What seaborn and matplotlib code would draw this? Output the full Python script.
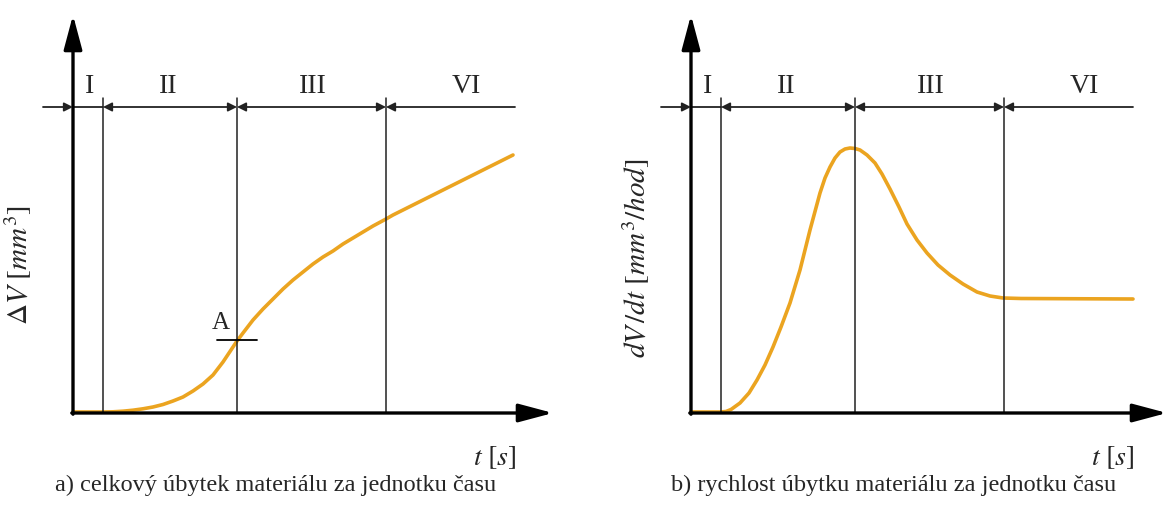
import numpy as np
import pandas as pd
import matplotlib
matplotlib.use("Agg")
import matplotlib.pyplot as plt
import seaborn as sns

# ---- data (schematic; units arbitrary) ----
phase_labels = ["I", "II", "III", "VI"]
boundaries = [0.0, 3.0, 16.4, 31.3]          # phase boundaries on t axis
phase_end = 44.2                              # end of dimension line
label_pos = [1.7, 9.5, 24.0, 39.3]            # label centres

# a) total material loss
t_a = [0.0, 3.0, 4.0, 5.0, 6.0, 7.0, 8.0, 9.0, 10.0, 11.0, 12.0, 13.0, 14.0,
       15.0, 16.0, 16.4, 17.0, 18.0, 19.0, 20.0, 21.0, 22.0, 23.0, 24.0,
       25.0, 26.0, 27.0, 28.0, 29.0, 30.0, 31.3, 32.0, 33.0, 34.0, 35.0,
       36.0, 37.4, 38.0, 39.0, 40.0, 41.0, 42.0, 43.0, 44.0]
v_a = [0.1, 0.1, 0.12, 0.18, 0.28, 0.42, 0.6, 0.85, 1.2, 1.6, 2.2, 2.9, 3.8,
       5.1, 6.6, 7.2, 8.0, 9.3, 10.4, 11.4, 12.4, 13.3, 14.1, 14.9,
       15.6, 16.2, 16.9, 17.5, 18.1, 18.7, 19.4, 19.8, 20.3, 20.8, 21.3,
       21.8, 22.5, 22.8, 23.3, 23.8, 24.3, 24.8, 25.3, 25.8]
point_A = (16.4, 7.3)

# b) rate of material loss
t_b = [0.0, 2.9, 3.5, 4.0, 4.9, 5.8, 6.6, 7.4, 8.2, 9.0, 9.9, 10.9, 11.9,
       12.9, 13.4, 13.9, 14.4, 14.9, 15.4, 15.9, 16.4, 16.9, 17.6, 18.4,
       19.1, 19.9, 20.8, 21.6, 22.6, 23.6, 24.7, 25.9, 27.2, 28.6, 29.9,
       31.2, 33.0, 44.2]
v_b = [0.1, 0.1, 0.15, 0.35, 1.0, 2.0, 3.3, 4.8, 6.6, 8.6, 11.0, 14.3, 18.3,
       22.0, 23.5, 24.6, 25.5, 26.1, 26.4, 26.5, 26.45, 26.3, 25.8, 25.0,
       23.9, 22.4, 20.6, 18.9, 17.3, 16.0, 14.8, 13.8, 12.9, 12.1, 11.7,
       11.5, 11.45, 11.4]

ylabels = [r"$\Delta V\ [mm^3]$", r"$dV\,/dt\ [mm^3/hod]$"]
xlabel = r"$t\ [s]$"
captions = ["a) celkový úbytek materiálu za jednotku času",
            "b) rychlost úbytku materiálu za jednotku času"]

sns.set_theme(style="white")
plt.rcParams["font.family"] = ["Liberation Serif", "DejaVu Serif"]
plt.rcParams["mathtext.fontset"] = "stix"

ORANGE = "#EBA420"
fig = plt.figure(figsize=(11.71, 5.05), dpi=100)

W, H = 1171, 505
panels = [43, 661]   # left pixel edges of the two panels
axes = []
for left in panels:
    ax = fig.add_axes([left / W, (505 - 423) / H, 520 / W, 410 / H])
    axes.append(ax)

AX_ARROW = "-|>,head_length=1.05,head_width=0.28"


def draw_frame(ax, ylab, lab_y, x_tip):
    # axes arrows
    ax.annotate("", xy=(0, 39.8), xytext=(0, -0.12),
                arrowprops=dict(arrowstyle=AX_ARROW, mutation_scale=20, lw=2.4,
                                color="black", shrinkA=0, shrinkB=0),
                annotation_clip=False)
    ax.annotate("", xy=(x_tip, 0), xytext=(-0.12, 0),
                arrowprops=dict(arrowstyle=AX_ARROW, mutation_scale=20, lw=2.4,
                                color="black", shrinkA=0, shrinkB=0),
                annotation_clip=False)
    # phase boundary lines
    for b in boundaries[1:]:
        ax.plot([b, b], [0, 31.5], color="#222222", lw=1.1, clip_on=False)
    # dimension line
    y = 30.6
    dim_kw = dict(color="#222222", lw=1.3, shrinkA=0, shrinkB=0)
    ax.annotate("", xy=(0, y), xytext=(-3.0, y),
                arrowprops=dict(arrowstyle="-|>", mutation_scale=13, **dim_kw),
                annotation_clip=False)
    ax.plot([0, boundaries[1]], [y, y], color="#222222", lw=1.3, clip_on=False)
    segs = boundaries[1:] + [phase_end]
    for i in range(len(segs) - 1):
        a, b = segs[i], segs[i + 1]
        style = "<|-|>" if i < len(segs) - 2 else "<|-"
        ax.annotate("", xy=(b, y), xytext=(a, y),
                    arrowprops=dict(arrowstyle=style, mutation_scale=13, **dim_kw),
                    annotation_clip=False)
    for lab, x in zip(phase_labels, label_pos):
        ax.text(x, 32.6, lab, ha="center", va="center", fontsize=20)
    ax.text(-5.5, lab_y, ylab, rotation=90, ha="center", va="center",
            fontsize=21)
    ax.text(42.2, -4.5, xlabel, ha="center", va="center", fontsize=20)


df_a = pd.DataFrame({"t": t_a, "v": v_a})
df_b = pd.DataFrame({"t": t_b, "v": v_b})
sns.lineplot(data=df_a, x="t", y="v", ax=axes[0], color=ORANGE, lw=2.6,
             legend=False, sort=False)
sns.lineplot(data=df_b, x="t", y="v", ax=axes[1], color=ORANGE, lw=2.6,
             legend=False, sort=False)
for ax in axes:
    ax.set_xlim(-3, 49)
    ax.set_ylim(-1, 40)
    ax.axis("off")

draw_frame(axes[0], ylabels[0], 14.8, 48.0)
draw_frame(axes[1], ylabels[1], 15.5, 47.6)

# point A marker
axes[0].plot([point_A[0] - 2.0, point_A[0] + 2.0], [point_A[1]] * 2,
             color="black", lw=1.3)
axes[0].text(point_A[0] - 1.6, point_A[1] + 1.7, "A", ha="center",
             va="center", fontsize=18)

for ax, cap in zip(axes, captions):
    ax.text(20.3, -7.2, cap, ha="center", va="center", fontsize=17.5)

fig.savefig("out.png", dpi=100)
